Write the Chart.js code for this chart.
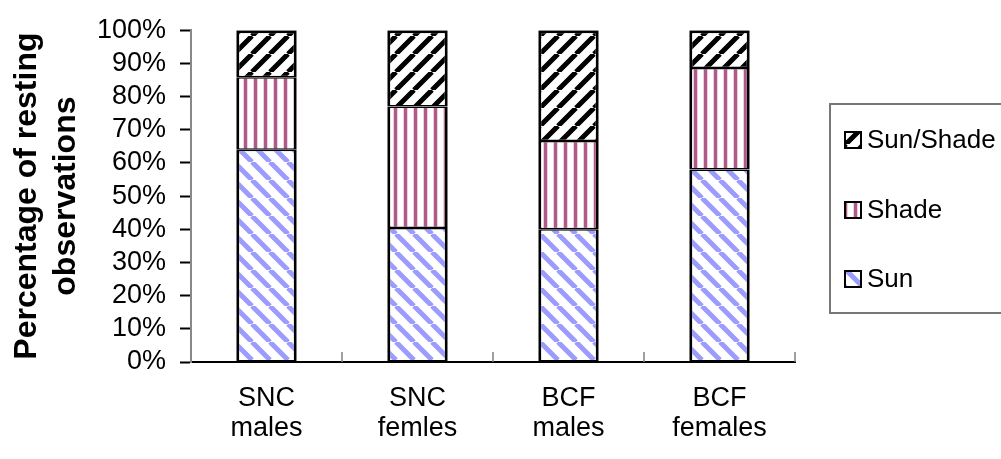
<!DOCTYPE html>
<html lang="en">
<head>
  <meta charset="UTF-8" />
  <title>Resting observations</title>
  <script src="https://cdn.jsdelivr.net/npm/chart.js"></script>
  <style>
    html, body { margin: 0; padding: 0; background: #fff; }
    #wrap { width: 1001px; height: 459px; }
  </style>
</head>
<body>
  <div id="wrap"><canvas id="grafico" width="1001" height="459"></canvas></div>
  <script>
    // data (percent of resting observations)
    const categorias = [["SNC", "males"], ["SNC", "femles"], ["BCF", "males"], ["BCF", "females"]];
    const sun = [64.0, 40.4, 40.0, 58.0];
    const shade = [21.8, 36.6, 26.6, 30.6];
    const sunShade = [14.2, 23.0, 33.4, 11.4];
    const seriesNames = ["Sun", "Shade", "Sun/Shade"];
    const yMax = 100;
    const yStep = 10;

    const FONT = "'Liberation Sans', Arial, sans-serif";

    function padrao(tipo) {
      const c = document.createElement("canvas");
      const ctx = c.getContext("2d");
      if (tipo === "shade") {
        c.width = 10; c.height = 10;
        ctx.fillStyle = "#fff";
        ctx.fillRect(0, 0, 10, 10);
        ctx.fillStyle = "#ebd0df";
        ctx.fillRect(3, 0, 5, 10);
        ctx.fillStyle = "#b05a8a";
        ctx.fillRect(4, 0, 3, 10);
        return ctx.createPattern(c, "repeat");
      }
      const n = 18;
      c.width = n; c.height = n;
      ctx.fillStyle = "#fff";
      ctx.fillRect(0, 0, n, n);
      ctx.strokeStyle = tipo === "sun" ? "#9c9cff" : "#000";
      ctx.lineWidth = 5;
      ctx.beginPath();
      for (const k of [-n, 0, n]) {
        if (tipo === "sun") { ctx.moveTo(k, 0); ctx.lineTo(k + n, n); }
        else { ctx.moveTo(k, n); ctx.lineTo(k + n, 0); }
      }
      ctx.stroke();
      return ctx.createPattern(c, "repeat");
    }

    const fills = [padrao("sun"), padrao("shade"), padrao("sunshade")];

    // legend box drawn on the right
    const legendaPlugin = {
      id: "legendaCaixa",
      afterDraw(chart) {
        const ctx = chart.ctx;
        ctx.save();
        ctx.strokeStyle = "#777";
        ctx.lineWidth = 2;
        ctx.strokeRect(830, 104, 200, 209);
        const ys = [140, 210, 279];
        const ds = chart.data.datasets.slice().reverse();
        ds.forEach((d, i) => {
          const y = ys[i];
          ctx.fillStyle = d.backgroundColor;
          ctx.fillRect(845, y - 8, 16, 16);
          ctx.strokeStyle = "#000";
          ctx.lineWidth = 2;
          ctx.strokeRect(845, y - 8, 16, 16);
          ctx.fillStyle = "#000";
          ctx.font = "26px " + FONT;
          ctx.textBaseline = "middle";
          ctx.fillText(d.label, 867, y + 1);
        });
        ctx.restore();
      }
    };

    // small tick marks pointing up between categories
    const marcasPlugin = {
      id: "marcasX",
      afterDraw(chart) {
        const x = chart.scales.x;
        const ctx = chart.ctx;
        ctx.save();
        ctx.strokeStyle = "#808080";
        ctx.lineWidth = 1.5;
        for (let i = 1; i <= categorias.length; i++) {
          const px = (x.getPixelForValue(i - 1) + x.getPixelForValue(Math.min(i, categorias.length - 1))) / 2;
          const xx = i === categorias.length ? x.right : px;
          ctx.beginPath();
          ctx.moveTo(xx, x.top);
          ctx.lineTo(xx, x.top - 10);
          ctx.stroke();
        }
        ctx.restore();
      }
    };

    const conjunto = (label, data, i) => ({
      label: label,
      data: data,
      backgroundColor: fills[i],
      borderColor: "#000",
      borderWidth: { left: 3, right: 3, top: i === 2 ? 3 : 1.5, bottom: 1.5 },
      borderSkipped: false,
      barPercentage: 0.4,
      categoryPercentage: 1
    });

    new Chart(document.getElementById("grafico"), {
      type: "bar",
      data: {
        labels: categorias,
        datasets: [
          conjunto(seriesNames[0], sun, 0),
          conjunto(seriesNames[1], shade, 1),
          conjunto(seriesNames[2], sunShade, 2)
        ]
      },
      options: {
        responsive: false,
        animation: false,
        layout: { padding: { top: 21, right: 206, left: 0, bottom: 0 } },
        plugins: { legend: { display: false }, tooltip: { enabled: false } },
        scales: {
          x: {
            stacked: true,
            grid: { display: true, drawOnChartArea: false, drawTicks: false },
            border: { color: "#000", width: 2 },
            ticks: { color: "#000", font: { family: FONT, size: 27, lineHeight: 1.1 }, padding: 22, maxRotation: 0 },
            afterFit(s) { s.height = 97; }
          },
          y: {
            stacked: true,
            min: 0,
            max: yMax,
            grid: { drawOnChartArea: false, drawTicks: true, tickLength: 11, tickColor: "#000", tickWidth: 2 },
            border: { color: "#888", width: 2 },
            ticks: {
              stepSize: yStep,
              autoSkip: false,
              color: "#000",
              padding: 14,
              font: { family: FONT, size: 27 },
              callback: v => v + "%"
            },
            title: {
              display: true,
              text: ["Percentage of resting", "observations"],
              color: "#000",
              font: { family: FONT, size: 32, weight: "bold", lineHeight: 1.22 },
              padding: { top: 8, bottom: 0 }
            },
            afterFit(s) { s.width = 191; }
          }
        }
      },
      plugins: [legendaPlugin, marcasPlugin]
    });
  </script>
</body>
</html>
